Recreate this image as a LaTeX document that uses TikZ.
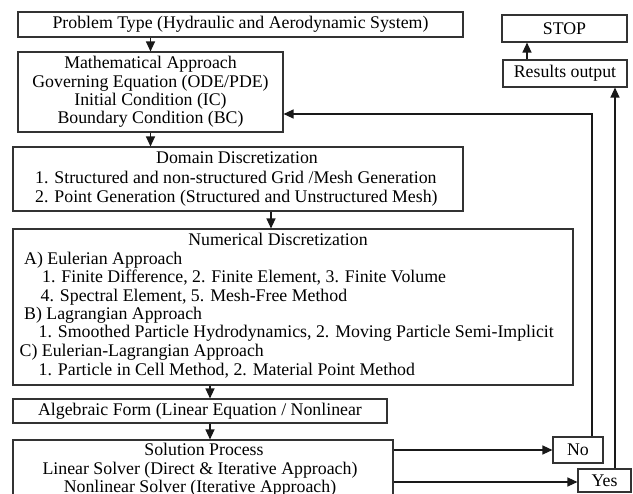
\documentclass[tikz,border=0pt]{standalone}
\usepackage{fontspec}
\setmainfont{Liberation Serif}
\usetikzlibrary{arrows.meta}
\begin{document}
\begin{tikzpicture}[x=1pt,y=-1pt,
  box/.style={draw=black!80, line width=1.1pt, rectangle, inner sep=0pt, font=\fontsize{17.8}{18.4}\selectfont, align=center},
  txt/.style={inner sep=0pt, font=\fontsize{17.8}{18.4}\selectfont, align=center},
  ltxt/.style={inner sep=0pt, font=\fontsize{17.8}{18.4}\selectfont, anchor=base west},
  ctxt/.style={inner sep=0pt, font=\fontsize{17.8}{18.4}\selectfont, anchor=base},
  arr/.style={draw=black!90, line width=1.2pt, -{Triangle[length=10pt,width=9pt]}},
]
\clip (0,0) rectangle (633,494);
\fill[white] (0,0) rectangle (633,494);

% boxes
\node[box, minimum width=445pt, minimum height=25pt] (prob) at (240.5,24.5) {Problem Type (Hydraulic and Aerodynamic System)};
\node[box, minimum width=265pt, minimum height=80pt] (math) at (150.5,92) {};
\node[txt] (mathT) at (math.center) {Mathematical Approach\\Governing Equation (ODE/PDE)\\Initial Condition (IC)\\Boundary Condition (BC)};
\node[box, minimum width=450pt, minimum height=64pt] (dom) at (238,179) {};
\node[ctxt] (domT) at (237,164) {Domain Discretization};
\node[ltxt] (dom1) at (35,184) {1. Structured and non-structured Grid /Mesh Generation};
\node[ltxt] (dom2) at (35,203) {2. Point Generation (Structured and Unstructured Mesh)};
\node[box, minimum width=560pt, minimum height=156pt] (num) at (293,307) {};
\node[ctxt] (numT) at (278,246) {Numerical Discretization};
\node[ltxt] (numA) at (24,265) {A) Eulerian Approach};
\node[ltxt] (numA1) at (42,283) {1. Finite Difference, 2. Finite Element, 3. Finite Volume};
\node[ltxt] (numA2) at (40.5,302) {4. Spectral Element, 5. Mesh-Free Method};
\node[ltxt] (numB) at (24,320) {B) Lagrangian Approach};
\node[ltxt] (numB1) at (38.5,338) {1. Smoothed Particle Hydrodynamics, 2. Moving Particle Semi-Implicit};
\node[ltxt] (numC) at (19.5,357) {C) Eulerian-Lagrangian Approach};
\node[ltxt] (numC1) at (38.5,376) {1. Particle in Cell Method, 2. Material Point Method};
\node[box, minimum width=374pt, minimum height=24pt] (alg) at (200,411) {Algebraic Form (Linear Equation / Nonlinear};
\node[box, minimum width=380pt, minimum height=80pt] (sol) at (203,480) {};
\node[ctxt] (sol1) at (204,456) {Solution Process};
\node[ctxt] (sol2) at (200,474.5) {Linear Solver (Direct \& Iterative Approach)};
\node[ctxt] (sol3) at (200,493) {Nonlinear Solver (Iterative Approach)};
\node[box, minimum width=125pt, minimum height=27pt] (stop) at (564.5,28.5) {STOP};
\node[box, minimum width=124pt, minimum height=27pt] (res) at (565,73.5) {Results output};
\node[box, minimum width=50pt, minimum height=26pt] (no) at (578,450) {No};
\node[box, minimum width=53pt, minimum height=23pt] (yes) at (604.5,480.5) {Yes};

% connectors
\draw[arr] (prob.south -| math.north) -- (math.north);
\draw[arr] (math.south) -- (math.south |- dom.north);
\draw[arr] ([xshift=33pt]dom.south) -- ([xshift=33pt]dom.south |- num.north);
\draw[arr] ([xshift=10pt]alg.north |- num.south) -- ([xshift=10pt]alg.north);
\draw[arr] ([xshift=10pt]alg.south) -- ([xshift=10pt]alg.south |- sol.north);
\draw[arr] (sol.east |- no.west) -- (no.west);
\draw[arr] ([yshift=-1.5pt]sol.east |- yes.west) -- ([yshift=-1.5pt]yes.west);
\draw[arr] ([xshift=14pt]no.north) |- ([yshift=-22pt]math.east);
\draw[arr] ([xshift=10.5pt]yes.north) -- ([xshift=50pt]res.south);
\draw[arr] ([xshift=-38pt]res.north) -- ([xshift=-37.5pt]stop.south);
\end{tikzpicture}
\end{document}
